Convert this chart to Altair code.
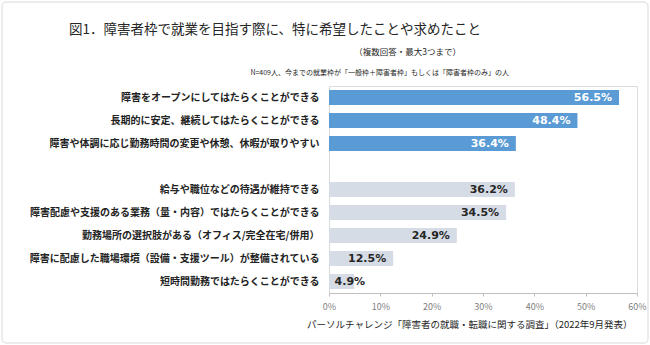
import altair as alt
import pandas as pd

categories = [
    "障害をオープンにしてはたらくことができる",
    "長期的に安定、継続してはたらくことができる",
    "障害や体調に応じ勤務時間の変更や休憩、休暇が取りやすい",
    "給与や職位などの待遇が維持できる",
    "障害配慮や支援のある業務（量・内容）ではたらくことができる",
    "勤務場所の選択肢がある（オフィス/完全在宅/併用）",
    "障害に配慮した職場環境（設備・支援ツール）が整備されている",
    "短時間勤務ではたらくことができる",
]
values = [56.5, 48.4, 36.4, 36.2, 34.5, 24.9, 12.5, 4.9]
groups = ["top", "top", "top", "rest", "rest", "rest", "rest", "rest"]
blank = "\u3000"
y_domain = categories[:3] + [blank] + categories[3:]
tick_values = [0, 10, 20, 30, 40, 50, 60]

title_text = "図1．障害者枠で就業を目指す際に、特に希望したことや求めたこと"
subtitle_text = "（複数回答・最大3つまで）"
note_text = "N=409人、今までの就業枠が「一般枠＋障害者枠」もしくは「障害者枠のみ」の人"
source_text = "パーソルチャレンジ「障害者の就職・転職に関する調査」（2022年9月発表）"

df = pd.DataFrame({"cat": categories, "v": values, "g": groups})

FONT = "Noto Sans CJK JP"
y_scale = alt.Scale(domain=y_domain, paddingInner=0.35, paddingOuter=0.175)

y_enc = alt.Y(
    "cat:N",
    sort=y_domain,
    scale=y_scale,
    axis=alt.Axis(
        title=None, ticks=False, domainColor="#d9d9d9", labelFont=FONT,
        labelFontSize=10, labelFontWeight="bold", labelColor="#222222",
        labelPadding=10, labelLimit=400,
    ),
)
x_scale = alt.Scale(domain=[0, 60], nice=False)

bars = alt.Chart(df).mark_bar().encode(
    x=alt.X(
        "v:Q", scale=x_scale,
        axis=alt.Axis(
            title=None, values=tick_values, labelExpr="datum.value + '%'",
            grid=False, domainColor="#bfbfbf", tickColor="#bfbfbf", tickSize=3,
            labelColor="#808080", labelFontSize=9, labelFont=FONT, labelPadding=6,
            labelFlush=False,
        ),
    ),
    y=y_enc,
    color=alt.Color("g:N", scale=alt.Scale(domain=["top", "rest"], range=["#5b9bd5", "#d6dce5"]), legend=None),
)

labels = alt.Chart(df).transform_calculate(
    lx="max(datum.v, 8.4)", txt="format(datum.v, '.1f') + '%'"
).mark_text(align="right", baseline="middle", dx=-7, font="DejaVu Sans", fontSize=11, fontWeight="bold").encode(
    x=alt.X("lx:Q", scale=x_scale),
    y=alt.Y("cat:N", sort=y_domain, scale=y_scale),
    text="txt:N",
    color=alt.condition("datum.g == 'top'", alt.value("#ffffff"), alt.value("#262626")),
)

title = alt.Chart(pd.DataFrame({"t": [title_text]})).mark_text(align="center", baseline="middle", font=FONT, fontSize=13.5, color="#262626").encode(
    text="t:N", x=alt.value(-54), y=alt.value(-56)
)
sub = alt.Chart(pd.DataFrame({"t": [subtitle_text]})).mark_text(align="right", baseline="middle", font=FONT, fontSize=8.5, color="#262626").encode(
    text="t:N", x=alt.value(132), y=alt.value(-34)
)
note = alt.Chart(pd.DataFrame({"t": [note_text]})).mark_text(align="right", baseline="middle", font=FONT, fontSize=7, color="#262626").encode(
    text="t:N", x=alt.value(180), y=alt.value(-13)
)
src = alt.Chart(pd.DataFrame({"t": [source_text]})).mark_text(align="left", baseline="middle", font=FONT, fontSize=9.5, color="#262626").encode(
    text="t:N", x=alt.value(-22), y=alt.value(239)
)
frame = alt.Chart(pd.DataFrame({"a": [0]})).mark_rect(fill=None, stroke="#d9d9d9", strokeWidth=1, cornerRadius=4).encode(
    x=alt.value(-327), x2=alt.value(319), y=alt.value(-84), y2=alt.value(257)
)

chart = alt.layer(frame, bars, labels, title, sub, note, src).properties(
    width=308, height=207,
    autosize=alt.AutoSizeParams(type="none"),
    padding={"left": 329, "top": 86, "right": 13, "bottom": 52},
).configure_view(stroke=None).configure(background="#ffffff")

chart.save("out.html", embed_options={"renderer": "svg", "actions": False})
